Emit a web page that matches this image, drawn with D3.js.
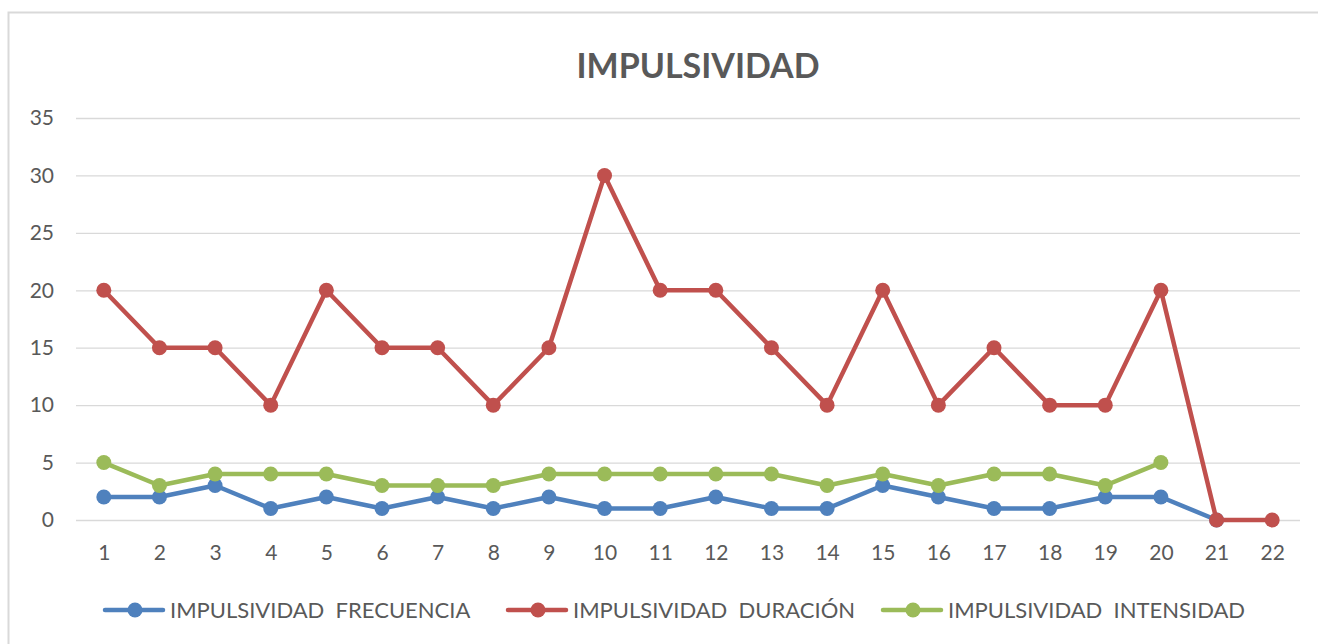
<!DOCTYPE html>
<html>
<head>
<meta charset="utf-8">
<script src="https://cdn.jsdelivr.net/npm/d3@7"></script>
<style>
  body { margin: 0; background: #fff; }
  text { font-family: Lato, "Open Sans", sans-serif; }
</style>
</head>
<body>
<div id="chart"></div>
<script>
// data
var categories = d3.range(1, 23);
var frecuencia = [2, 2, 3, 1, 2, 1, 2, 1, 2, 1, 1, 2, 1, 1, 3, 2, 1, 1, 2, 2, 0];
var duracion = [20, 15, 15, 10, 20, 15, 15, 10, 15, 30, 20, 20, 15, 10, 20, 10, 15, 10, 10, 20, 0, 0];
var intensidad = [5, 3, 4, 4, 4, 3, 3, 3, 4, 4, 4, 4, 4, 3, 4, 3, 4, 4, 3, 5];
var yTicks = [0, 5, 10, 15, 20, 25, 30, 35];
var seriesNames = ["IMPULSIVIDAD  FRECUENCIA", "IMPULSIVIDAD  DURACIÓN", "IMPULSIVIDAD  INTENSIDAD"];
var colors = ["#4f81bd", "#c0504d", "#9bbb59"];

var W = 1318, H = 644;
var svg = d3.select("#chart").append("svg")
    .attr("width", W).attr("height", H);

// outer border of the chart area
svg.append("rect")
    .attr("x", 8.5).attr("y", 12.5)
    .attr("width", W).attr("height", H)
    .attr("fill", "#fff")
    .attr("stroke", "#d9d9d9").attr("stroke-width", 2);

svg.append("text")
    .attr("x", 698).attr("y", 78)
    .attr("text-anchor", "middle")
    .attr("font-size", 34).attr("font-weight", "bold")
    .attr("fill", "#595959")
    .text("IMPULSIVIDAD");

var x = d3.scalePoint()
    .domain(categories)
    .range([76, 1300])
    .padding(0.5);

var y = d3.scaleLinear()
    .domain([0, 35])
    .range([520, 118]);

// gridlines + y labels
var yAxis = svg.append("g")
    .attr("transform", "translate(76,0)")
    .call(d3.axisLeft(y).tickValues(yTicks).tickSize(-1224).tickPadding(22));
yAxis.select(".domain").remove();
yAxis.selectAll(".tick line").attr("stroke", "#d9d9d9").attr("stroke-width", 1.3);
yAxis.selectAll(".tick text").attr("font-size", 21).attr("fill", "#595959")
    .attr("font-family", "Lato, 'Open Sans', sans-serif");

// x labels
var xAxis = svg.append("g")
    .attr("transform", "translate(0,520)")
    .call(d3.axisBottom(x).tickSize(0).tickPadding(25));
xAxis.select(".domain").remove();
xAxis.selectAll(".tick text").attr("font-size", 21).attr("fill", "#595959")
    .attr("font-family", "Lato, 'Open Sans', sans-serif");

var allSeries = [frecuencia, duracion, intensidad];

var line = d3.line()
    .x(function(d, i) { return x(categories[i]); })
    .y(function(d) { return y(d); });

allSeries.forEach(function(vals, s) {
  var g = svg.append("g");
  g.append("path")
    .datum(vals)
    .attr("d", line)
    .attr("fill", "none")
    .attr("stroke", colors[s])
    .attr("stroke-width", 4.5)
    .attr("stroke-linejoin", "round");
  g.selectAll("circle")
    .data(vals)
    .enter()
    .append("circle")
      .attr("cx", function(d, i) { return x(categories[i]); })
      .attr("cy", function(d) { return y(d); })
      .attr("r", 7.5)
      .attr("fill", colors[s]);
});

// legend
var legendX = [105, 508, 883];
var legend = svg.append("g");
seriesNames.forEach(function(name, s) {
  var lg = legend.append("g").attr("transform", "translate(" + legendX[s] + ",610)");
  lg.append("line")
    .attr("x1", 0).attr("x2", 58)
    .attr("stroke", colors[s]).attr("stroke-width", 4.5).attr("stroke-linecap", "round");
  lg.append("circle").attr("cx", 30).attr("r", 7.5).attr("fill", colors[s]);
  lg.append("text")
    .attr("x", 65).attr("y", 8)
    .attr("font-size", 22).attr("fill", "#595959")
    .style("white-space", "pre")
    .text(name);
});
</script>
</body>
</html>
